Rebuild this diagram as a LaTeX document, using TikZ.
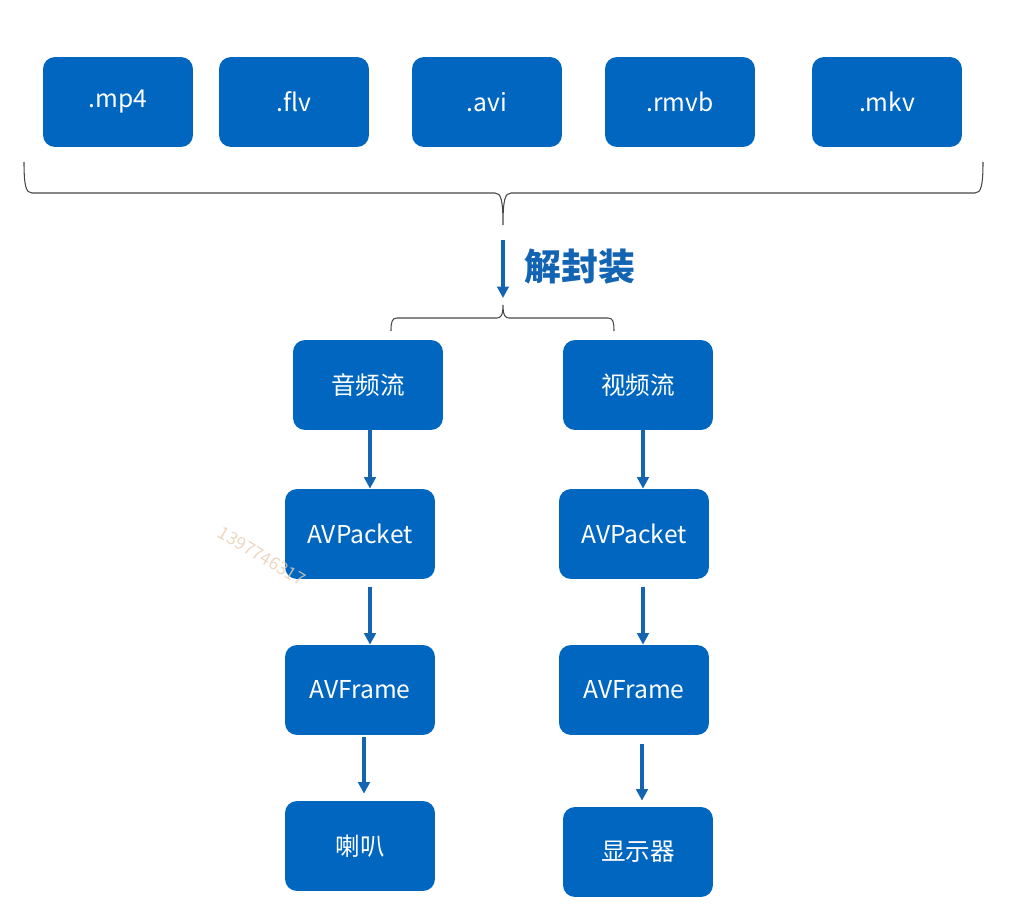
\documentclass[tikz,border=0pt]{standalone}
\usepackage{fontspec}
\newfontfamily\cjk{Noto Sans CJK SC}
\usetikzlibrary{arrows.meta}
\definecolor{boxblue}{RGB}{0,102,192}
\definecolor{arrblue}{RGB}{20,100,180}
\definecolor{brgray}{RGB}{70,70,70}
\definecolor{wmark}{RGB}{232,205,180}
\tikzset{
  fmt/.style={fill=boxblue, rounded corners=0.24cm, minimum width=3cm,
    minimum height=1.8cm, text=white, font=\cjk\fontsize{14}{16}\selectfont},
  flow/.style={arrblue, line width=1.8pt, -{Triangle[length=6.5pt,width=6.5pt]}},
  brace/.style={brgray, line width=0.6pt}
}

\begin{document}
\begin{tikzpicture}[x=0.02cm, y=-0.02cm]
\useasboundingbox (0,0) rectangle (1019,919);
% container formats
\node[fmt] (mp4) at (118,102) {.mp4};
\node[fmt] (flv) at (294,102) {.flv};
\node[fmt] (avi) at (487,102) {.avi};
\node[fmt] (rmvb) at (680,102) {.rmvb};
\node[fmt] (mkv) at (887,102) {.mkv};
% upper brace
\draw[brace] (24,162) .. controls (24,186) and (26,193) .. (32,193) -- (495,193)
  .. controls (501,193) and (503,200) .. (503,225)
  .. controls (503,200) and (505,193) .. (511,193) -- (975,193)
  .. controls (981,193) and (983,186) .. (983,162);
\coordinate (demuxtop) at (503,240);
\coordinate (demuxbot) at (503,298);
\draw[flow] (demuxtop) -- (demuxbot);
\node[arrblue, font=\cjk\bfseries\fontsize{21}{24}\selectfont] (demux) at (580,267) {解封装};
% lower brace
\draw[brace] (391,331) .. controls (391,322) and (392,318) .. (397,318) -- (497,318)
  .. controls (501,318) and (503,315) .. (503,305)
  .. controls (503,315) and (505,318) .. (509,318) -- (608,318)
  .. controls (613,318) and (614,322) .. (614,331);
% audio
\node[fmt] (audio) at (368,385) {音频流};
\node[fmt] (apkt) at (360,534) {AVPacket};
\node[fmt] (afrm) at (360,690) {AVFrame};
\node[fmt] (spk) at (360,846) {喇叭};
% video
\node[fmt] (video) at (638,385) {视频流};
\node[fmt] (vpkt) at (634,534) {AVPacket};
\node[fmt] (vfrm) at (634,690) {AVFrame};
\node[fmt] (disp) at (638,852) {显示器};
% arrows
\draw[flow] ([xshift=0.04cm]audio.south) -- ([xshift=0.04cm]audio.south |- apkt.north);
\draw[flow] ([xshift=0.2cm,yshift=-0.16cm]apkt.south) -- ([xshift=0.2cm]afrm.north);
\draw[flow] ([xshift=0.08cm,yshift=-0.04cm]afrm.south) -- ([xshift=0.08cm,yshift=0.14cm]spk.north);
\draw[flow] ([xshift=0.1cm]video.south) -- ([xshift=0.1cm]video.south |- vpkt.north);
\draw[flow] ([xshift=0.18cm,yshift=-0.16cm]vpkt.south) -- ([xshift=0.18cm]vfrm.north);
\draw[flow] ([xshift=0.16cm,yshift=-0.18cm]vfrm.south) -- ([xshift=0.16cm,yshift=0.12cm]vfrm.south |- disp.north);
% watermark
\node[wmark, opacity=0.8, rotate=-31, font=\cjk\fontsize{10}{12}\selectfont] (wm) at (262,556) {1397746317};
\end{tikzpicture}
\end{document}
